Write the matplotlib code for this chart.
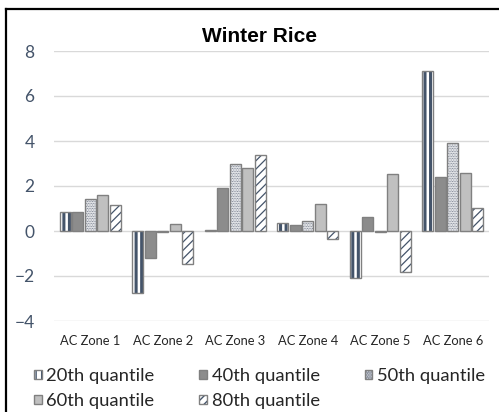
import numpy as np
import matplotlib
matplotlib.use('Agg')
import matplotlib.pyplot as plt
from matplotlib.patches import Rectangle
from matplotlib.lines import Line2D
from matplotlib.legend_handler import HandlerTuple

zones = ['AC Zone 1', 'AC Zone 2', 'AC Zone 3', 'AC Zone 4', 'AC Zone 5', 'AC Zone 6']
q20 = [0.83, -2.75, 0.05, 0.36, -2.1, 7.1]
q40 = [0.83, -1.21, 1.92, 0.27, 0.64, 2.38]
q50 = [1.42, -0.05, 2.97, 0.44, -0.05, 3.93]
q60 = [1.58, 0.30, 2.82, 1.18, 2.55, 2.60]
q80 = [1.14, -1.48, 3.36, -0.34, -1.82, 1.02]
names = ['20th quantile', '40th quantile', '50th quantile', '60th quantile', '80th quantile']
yticks = [-4, -2, 0, 2, 4, 6, 8]

navy = '#44546A'
edge = '#808080'
# facecolor, hatch, hatch colour, hatch linewidth
styles = [
    ('white', '|||', navy, 2.2),
    ('#8c8c8c', None, '#8c8c8c', 1.0),
    ('white', '..........', '#5f687a', 0.6),
    ('#c0c0c0', None, '#c0c0c0', 1.0),
    ('white', '////', navy, 0.9),
]

plt.rcParams['font.family'] = ['Lato', 'DejaVu Sans']
plt.rcParams['hatch.linewidth'] = 1.0

fig = plt.figure(figsize=(4.99, 4.12), dpi=100)
ax = fig.add_axes([54/499, 1-321/412, 435/499, 270/412])

x = np.arange(len(zones))
slot = 0.172
w = 0.15
handles = []
for i, vals in enumerate([q20, q40, q50, q60, q80]):
    fc, h, hc, hlw = styles[i]
    pos = x + (i - 2) * slot
    bars = ax.bar(pos, vals, w, color=fc, edgecolor=hc, hatch=h, lw=0, zorder=2)
    for b in bars:
        if hasattr(b, 'set_hatch_linewidth'):
            b.set_hatch_linewidth(hlw)
    ax.bar(pos, vals, w, fill=False, edgecolor=edge, lw=1, zorder=3)
    p1 = Rectangle((0, 0), 1, 1, facecolor=fc, edgecolor=hc, hatch=h, lw=0)
    if hasattr(p1, 'set_hatch_linewidth'):
        p1.set_hatch_linewidth(hlw)
    p2 = Rectangle((0, 0), 1, 1, fill=False, edgecolor=edge, lw=1)
    handles.append((p1, p2))

ax.set_xlim(-0.5, 5.5)
ax.set_ylim(-4, 8)
ax.set_yticks(yticks)
ax.set_xticks(x)
ax.set_xticklabels(zones)
ax.yaxis.grid(True, color='#d9d9d9', lw=1)
ax.set_axisbelow(True)
for s in ax.spines.values():
    s.set_visible(False)
ax.tick_params(axis='y', length=0, pad=14, labelsize=12.5, labelcolor=navy)
ax.tick_params(axis='x', length=0, pad=10, labelsize=9.3, labelcolor='#262626')

fig.text(259/499, 1-37/412, 'Winter Rice', ha='center', va='center',
         fontsize=15, fontweight='bold', family='Liberation Sans')

# Excel fills legend row-wise, matplotlib column-wise
order = [0, 3, 1, 4, 2]
fig.legend([handles[k] for k in order], [names[k] for k in order],
           handler_map={tuple: HandlerTuple(ndivide=1)},
           ncol=3, loc='upper left', bbox_to_anchor=(34/499, 1-368/412),
           frameon=False, fontsize=13.2, handlelength=0.42, handleheight=0.42,
           handletextpad=0.25, columnspacing=2.45, labelspacing=0.48,
           borderpad=0, borderaxespad=0, labelcolor='#262626')

# chart frame (top and left edges only visible)
fig.add_artist(Line2D([6/499, 6/499], [0, 1-8.5/412], transform=fig.transFigure, color='black', lw=1.6))
fig.add_artist(Line2D([6/499, 1], [1-8.5/412, 1-8.5/412], transform=fig.transFigure, color='black', lw=1.6))

fig.savefig('out.png', dpi=100)
